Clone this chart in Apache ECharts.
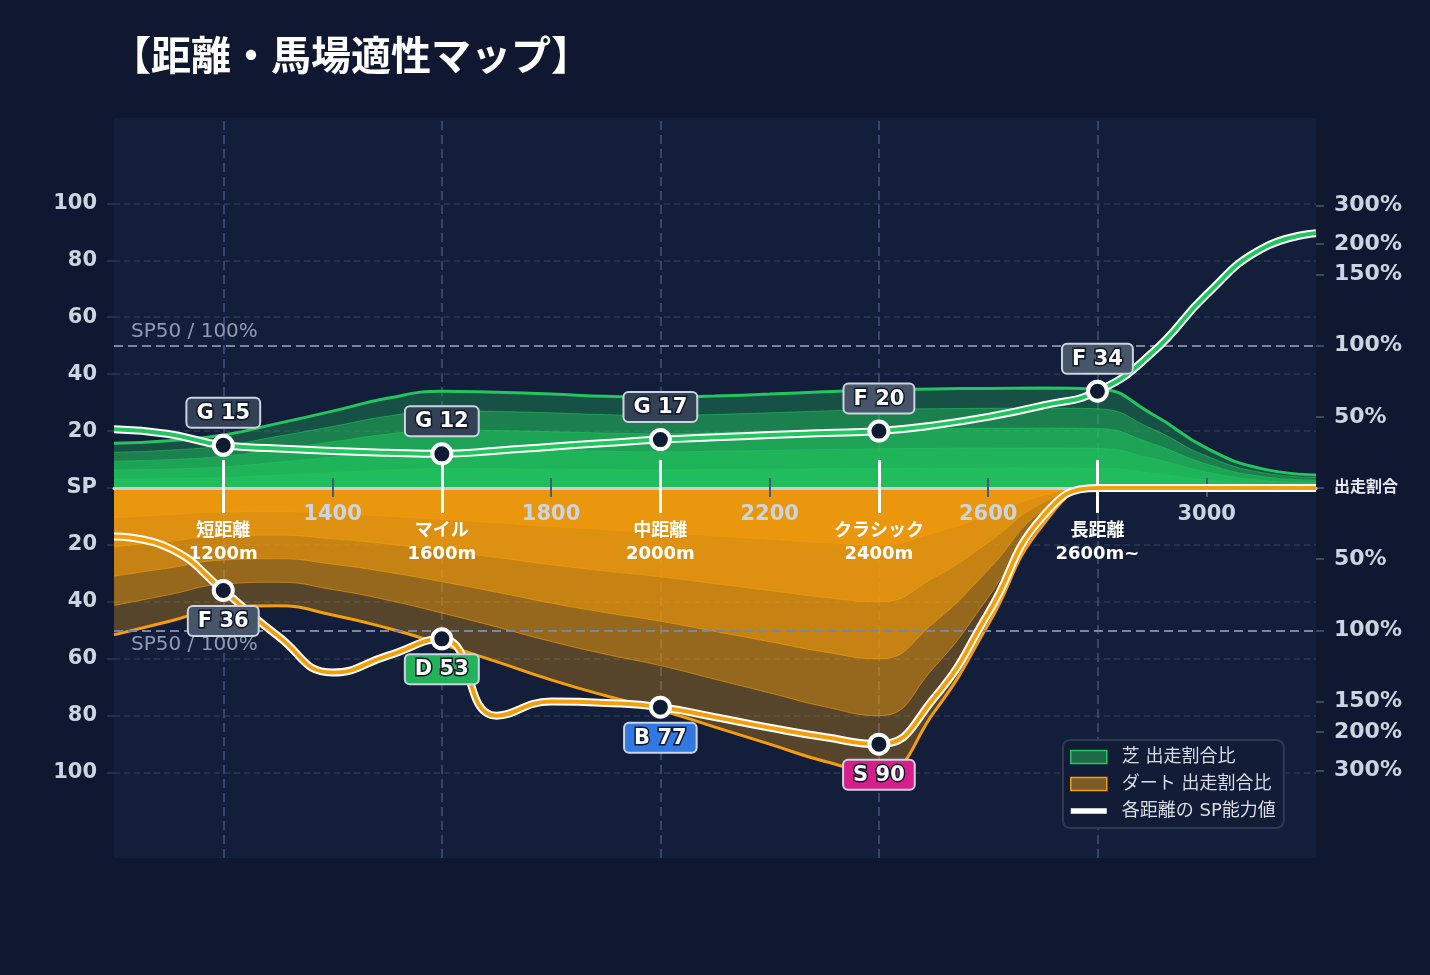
<!DOCTYPE html>
<html>
<head>
<meta charset="utf-8">
<title>距離・馬場適性マップ</title>
<script src="https://cdn.jsdelivr.net/npm/echarts@6/dist/echarts.min.js"></script>
<style>
  html, body { margin: 0; padding: 0; background: #0f1830; }
  #chart { width: 1430px; height: 975px; }
</style>
</head>
<body>
<div id="chart"></div>
<script>
// 距離 (m)
const distances = [1000, 1100, 1200, 1300, 1400, 1500, 1600, 1700, 1800, 1900, 2000, 2100,
  2200, 2300, 2400, 2500, 2600, 2700, 2800, 2900, 3000, 3100, 3200]

// 出走割合比 (SPスケール上の高さ) 芝は上、ダートは下に描く
const turfShare = [15.7, 16.6, 18.6, 22.7, 27, 31.5, 34, 33.6, 33, 32.2, 31.8, 32.3,
  33, 33.8, 34.5, 34.8, 35, 35.1, 34.8, 26, 14, 6.8, 4.6]
const dirtShare = [51.6, 46.9, 42.2, 41.4, 44.6, 49.2, 54.9, 61, 67.4, 73, 78, 84,
  90, 96, 100, 79, 48, 13, 0, 0, 0, 0, 0]

// 各距離の SP能力値
const turfSP = [20.6, 19, 15, 13.9, 13, 12.4, 12, 13.1, 14.5, 15.8, 17, 17.8,
  18.6, 19.3, 20, 22, 25, 29, 34, 47.5, 68, 84, 89.5]
const dirtSP = [17, 21, 36, 52, 64.8, 59, 53, 80, 75, 75.5, 77, 80.5,
  84.2, 87.5, 90, 74, 44, 10, 0, 0, 0, 0, 0]

// 距離区分
const categoryDist = [1200, 1600, 2000, 2400, 2800]
const categoryNames = ['短距離', 'マイル', '中距離', 'クラシック', '長距離']
const categoryDistLabels = ['1200m', '1600m', '2000m', '2400m', '2600m~']
const turfGrades = ['G', 'G', 'G', 'F', 'F']
const dirtGrades = ['F', 'D', 'B', 'S', null]

// 目盛
const distTicks = [1400, 1800, 2200, 2600, 3000]
const spTicks = [-100, -80, -60, -40, -20, 0, 20, 40, 60, 80, 100]
const ratioLabels = ['300%', '200%', '150%', '100%', '50%', '出走割合', '50%', '100%', '150%', '200%', '300%']
const ratioTicks = [99.3, 85.8, 75, 50, 25, 0, -25, -50, -75, -85.7, -99.2]

const TURF = '芝 出走割合比'
const DIRT = 'ダート 出走割合比'
const SP_NAME = '各距離の SP能力値'
const FONT = "'DejaVu Sans', 'Noto Sans CJK JP', sans-serif"
const SMOOTH = 0.5

const gradeColors = { G: '#334155', F: '#475569', D: '#22b35a', B: '#3178e0', S: '#d61f8b' }

// 濃淡の帯（外側ほど薄い）
const bands = [
  { k: 1, a: 0.3 }, { k: 0.8, a: 0.4 }, { k: 0.6, a: 0.5 }, { k: 0.4, a: 0.5 }, { k: 0.2, a: 0.5 }
]

// x軸をSP=0の位置に置くためのずらし量
const AXIS_OFFSET = -370

function bandSeries (name, values, sign, rgb, edge) {
  return bands.map((b, i) => ({
    name: name,
    type: 'line',
    smooth: SMOOTH,
    symbol: 'none',
    silent: true,
    z: 2,
    data: distances.map((d, j) => [d, sign * values[j] * b.k]),
    lineStyle: i === 0 ? { color: edge, width: 3 } : { color: 'rgba(' + rgb + ',0.6)', width: 1 },
    areaStyle: { color: 'rgba(' + rgb + ',' + b.a + ')', opacity: 1 },
    emphasis: { disabled: true }
  }))
}

function spSeries (values, sign, color, grades, pos, dist) {
  const data = distances.map((d, j) => {
    const k = categoryDist.indexOf(d)
    if (k < 0 || !grades[k]) return { value: [d, sign * values[j]], symbol: 'none' }
    return {
      value: [d, sign * values[j]],
      label: { show: true, formatter: grades[k] + ' ' + values[j], backgroundColor: gradeColors[grades[k]] }
    }
  })
  return [
    {
      name: SP_NAME, type: 'line', smooth: SMOOTH, symbol: 'none', silent: true, z: 6,
      data: distances.map((d, j) => [d, sign * values[j]]),
      lineStyle: { color: '#ffffff', width: 8 },
      emphasis: { disabled: true }
    },
    {
      name: SP_NAME, type: 'line', smooth: SMOOTH, z: 7,
      symbol: 'circle', symbolSize: 19, showSymbol: true,
      data: data,
      lineStyle: { color: color, width: 4 },
      itemStyle: { color: '#0f1a33', borderColor: '#ffffff', borderWidth: 4 },
      label: {
        show: false, position: pos, distance: dist,
        color: '#ffffff', fontSize: 21, fontWeight: 'bold', fontFamily: FONT,
        padding: [4, 9, 3, 9], borderColor: '#cbd5e1', borderWidth: 2, borderRadius: 4,
        textBorderColor: '#0f172a', textBorderWidth: 3
      },
      emphasis: { disabled: true }
    }
  ]
}

const turfBands = bandSeries(TURF, turfShare, 1, '34,197,94', '#22c55e')
const dirtBands = bandSeries(DIRT, dirtShare, -1, '245,158,11', '#f59e0b')

// 距離区分の縦線
turfBands[0].markLine = {
  silent: true, symbol: 'none', z: 1,
  label: { show: false },
  lineStyle: { color: '#36466a', width: 2, type: [9, 5] },
  data: categoryDist.map(d => ({ xAxis: d }))
}
// SP50 / 100% 基準線
dirtBands[0].markLine = {
  silent: true, symbol: 'none',
  lineStyle: { color: '#7a879e', width: 2, type: [9, 5] },
  label: { formatter: 'SP50 / 100%', color: '#8f9bb2', fontSize: 20, fontFamily: FONT, distance: [17, 4] },
  data: [
    { yAxis: 50, label: { position: 'insideStartTop' } },
    { yAxis: -50, label: { position: 'insideStartBottom' } }
  ]
}

const xBase = {
  type: 'value', min: 1000, max: 3200, position: 'bottom', offset: AXIS_OFFSET,
  splitLine: { show: false }
}
const hiddenLine = { onZero: false, lineStyle: { color: 'rgba(0,0,0,0)', width: 0 } }

const option = {
  backgroundColor: '#0f1830',
  animation: false,
  textStyle: { fontFamily: FONT },
  title: {
    text: '【距離・馬場適性マップ】',
    left: 106, top: 30,
    textStyle: { color: '#ffffff', fontSize: 40, fontWeight: 'bold', fontFamily: "'Noto Sans CJK JP', sans-serif" }
  },
  grid: {
    left: 114, right: 114, top: 118, bottom: 117,
    show: true, backgroundColor: '#131f3a', borderWidth: 0,
    outerBoundsMode: 'none'
  },
  legend: {
    orient: 'vertical', left: 1063, top: 740,
    itemWidth: 36, itemHeight: 13, itemGap: 9,
    padding: [8, 8, 8, 7],
    backgroundColor: '#121c36', borderColor: '#2d3a52', borderWidth: 2, borderRadius: 7,
    textStyle: { color: '#d8dde6', fontSize: 18, fontFamily: FONT, padding: [0, 0, 0, 10] },
    data: [
      { name: TURF, icon: 'rect', itemStyle: { color: '#1c6a47', borderColor: '#22c55e', borderWidth: 1.5 } },
      { name: DIRT, icon: 'rect', itemStyle: { color: '#7a5a26', borderColor: '#f59e0b', borderWidth: 1.5 } },
      { name: SP_NAME, icon: 'path://M0,0H44V7H0Z', itemStyle: { color: '#ffffff', borderWidth: 0 } }
    ]
  },
  xAxis: [
    {
      ...xBase, z: 3,
      axisLine: { onZero: false, lineStyle: { color: '#c9ced8', width: 3 } },
      axisTick: { show: false },
      axisLabel: {
        customValues: distTicks, formatter: v => String(v),
        color: '#cbd5e1', fontSize: 21, fontWeight: 'bold', margin: 16
      }
    },
    {
      ...xBase, z: 4, axisLine: hiddenLine,
      axisTick: { show: true, customValues: distTicks, length: 9, lineStyle: { color: '#4a5a75', width: 2 } },
      axisLabel: { show: false }
    },
    {
      ...xBase, z: 4, axisLine: hiddenLine,
      axisTick: { show: true, inside: true, customValues: distTicks, length: 10, lineStyle: { color: '#4a5a75', width: 2 } },
      axisLabel: { show: false }
    },
    {
      ...xBase, z: 5, axisLine: hiddenLine,
      axisTick: { show: true, customValues: categoryDist, length: 25, lineStyle: { color: '#ffffff', width: 3 } },
      axisLabel: {
        customValues: categoryDist,
        formatter: v => {
          const i = categoryDist.indexOf(v)
          return i < 0 ? '' : categoryNames[i] + '\n' + categoryDistLabels[i]
        },
        color: '#ffffff', fontSize: 18, fontWeight: 'bold', lineHeight: 23, margin: 32
      }
    },
    {
      ...xBase, z: 5, axisLine: hiddenLine,
      axisTick: { show: true, inside: true, customValues: categoryDist, length: 28, lineStyle: { color: '#ffffff', width: 3 } },
      axisLabel: { show: false }
    }
  ],
  yAxis: [
    {
      type: 'value', min: -130, max: 130, position: 'left',
      axisLine: { show: false },
      axisTick: { show: true, customValues: spTicks, length: 7, lineStyle: { color: '#2d3a55', width: 1.5 } },
      axisLabel: {
        customValues: spTicks,
        formatter: v => (v === 0 ? 'SP' : String(Math.abs(v))),
        color: '#cbd5e1', fontSize: 21, fontWeight: 'bold', margin: 17
      },
      splitLine: { show: true, lineStyle: { color: '#2d3a55', width: 1.5, type: [6, 4] } }
    },
    {
      type: 'value', min: -130, max: 130, position: 'right',
      axisLine: { show: false },
      axisTick: { show: true, customValues: ratioTicks, length: 8, lineStyle: { color: '#4a586f', width: 1.5 } },
      axisLabel: {
        customValues: ratioTicks,
        formatter: v => {
          const i = ratioTicks.findIndex(t => Math.abs(t - v) < 0.01)
          if (i < 0) return ''
          return i === 5 ? '{s|' + ratioLabels[i] + '}' : ratioLabels[i]
        },
        color: '#cbd5e1', fontSize: 22, fontWeight: 'bold', margin: 18,
        rich: { s: { fontSize: 16, fontWeight: 'bold', color: '#e5e9f0', fontFamily: FONT } }
      },
      splitLine: { show: false }
    }
  ],
  series: [
    ...turfBands,
    ...dirtBands,
    ...spSeries(turfSP, 1, '#22c55e', turfGrades, 'top', 7),
    ...spSeries(dirtSP, -1, '#f59e0b', dirtGrades, 'bottom', 5)
  ]
}

const myChart = echarts.init(document.getElementById('chart'))
myChart.setOption(option)
window.addEventListener('resize', function () {
  myChart.resize()
})
</script>
</body>
</html>
